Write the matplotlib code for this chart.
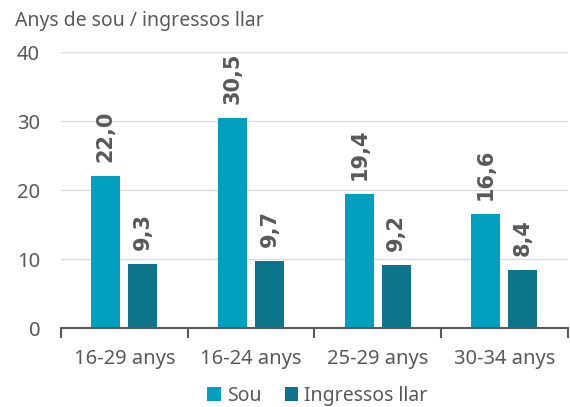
import numpy as np
import matplotlib
matplotlib.use("Agg")
import matplotlib.pyplot as plt

categories = ["16-29 anys", "16-24 anys", "25-29 anys", "30-34 anys"]
sou = [22.0, 30.5, 19.4, 16.6]
ingressos = [9.3, 9.7, 9.2, 8.4]
series_names = ["Sou", "Ingressos llar"]
title = "Anys de sou / ingressos llar"

c_sou = "#00A0BE"
c_ing = "#0C7589"
grey = "#595959"

plt.rcParams['font.family'] = ['Noto Sans', 'DejaVu Sans']

fig = plt.figure(figsize=(5.7, 4.07), dpi=100)
ax = fig.add_axes([0.107, 0.194, 0.889, 0.678])

x = np.arange(len(categories))
w = 0.23
off = 0.146
b1 = ax.bar(x - off, sou, w, color=c_sou, label=series_names[0], zorder=3)
b2 = ax.bar(x + off, ingressos, w, color=c_ing, label=series_names[1], zorder=3)

# rotated value labels above each bar
for bars in (b1, b2):
    for r in bars:
        v = r.get_height()
        ax.annotate(f"{v:.1f}".replace(".", ","), (r.get_x() + r.get_width() / 2, v),
                    xytext=(0, 10), textcoords="offset points", rotation=90,
                    ha="center", va="bottom", fontsize=15, fontweight="bold",
                    color=grey, family="DejaVu Sans")

ax.set_xlim(-0.5, len(categories) - 0.5)
ax.set_ylim(0, 40)
ax.set_yticks([0, 10, 20, 30, 40])
ax.yaxis.grid(True, color="#DDDDDD", lw=1, zorder=0)
ax.set_xticks(np.arange(len(categories) + 1) - 0.5, minor=False)
ax.set_xticklabels([])
ax.set_xticks(x, minor=True)
ax.set_xticklabels(categories, minor=True)
ax.tick_params(axis="x", which="major", length=7, color=grey, width=1.5)
ax.tick_params(axis="x", which="minor", length=0, labelsize=14.5, labelcolor=grey, pad=15)
ax.tick_params(axis="y", length=0, labelsize=14.5, labelcolor=grey, pad=15)
for s in ["top", "right", "left"]:
    ax.spines[s].set_visible(False)
ax.spines["bottom"].set_color(grey)
ax.spines["bottom"].set_linewidth(1.5)
ax.spines["bottom"].set_zorder(4)

fig.text(0.026, 0.948, title, fontsize=14, color=grey, va="center")

fig.legend(loc="center", bbox_to_anchor=(0.557, 0.028), ncol=2, frameon=False,
           fontsize=14, labelcolor=grey, handlelength=0.7, handleheight=0.7,
           handletextpad=0.3, columnspacing=1.2)

fig.savefig("out.png", dpi=100)
